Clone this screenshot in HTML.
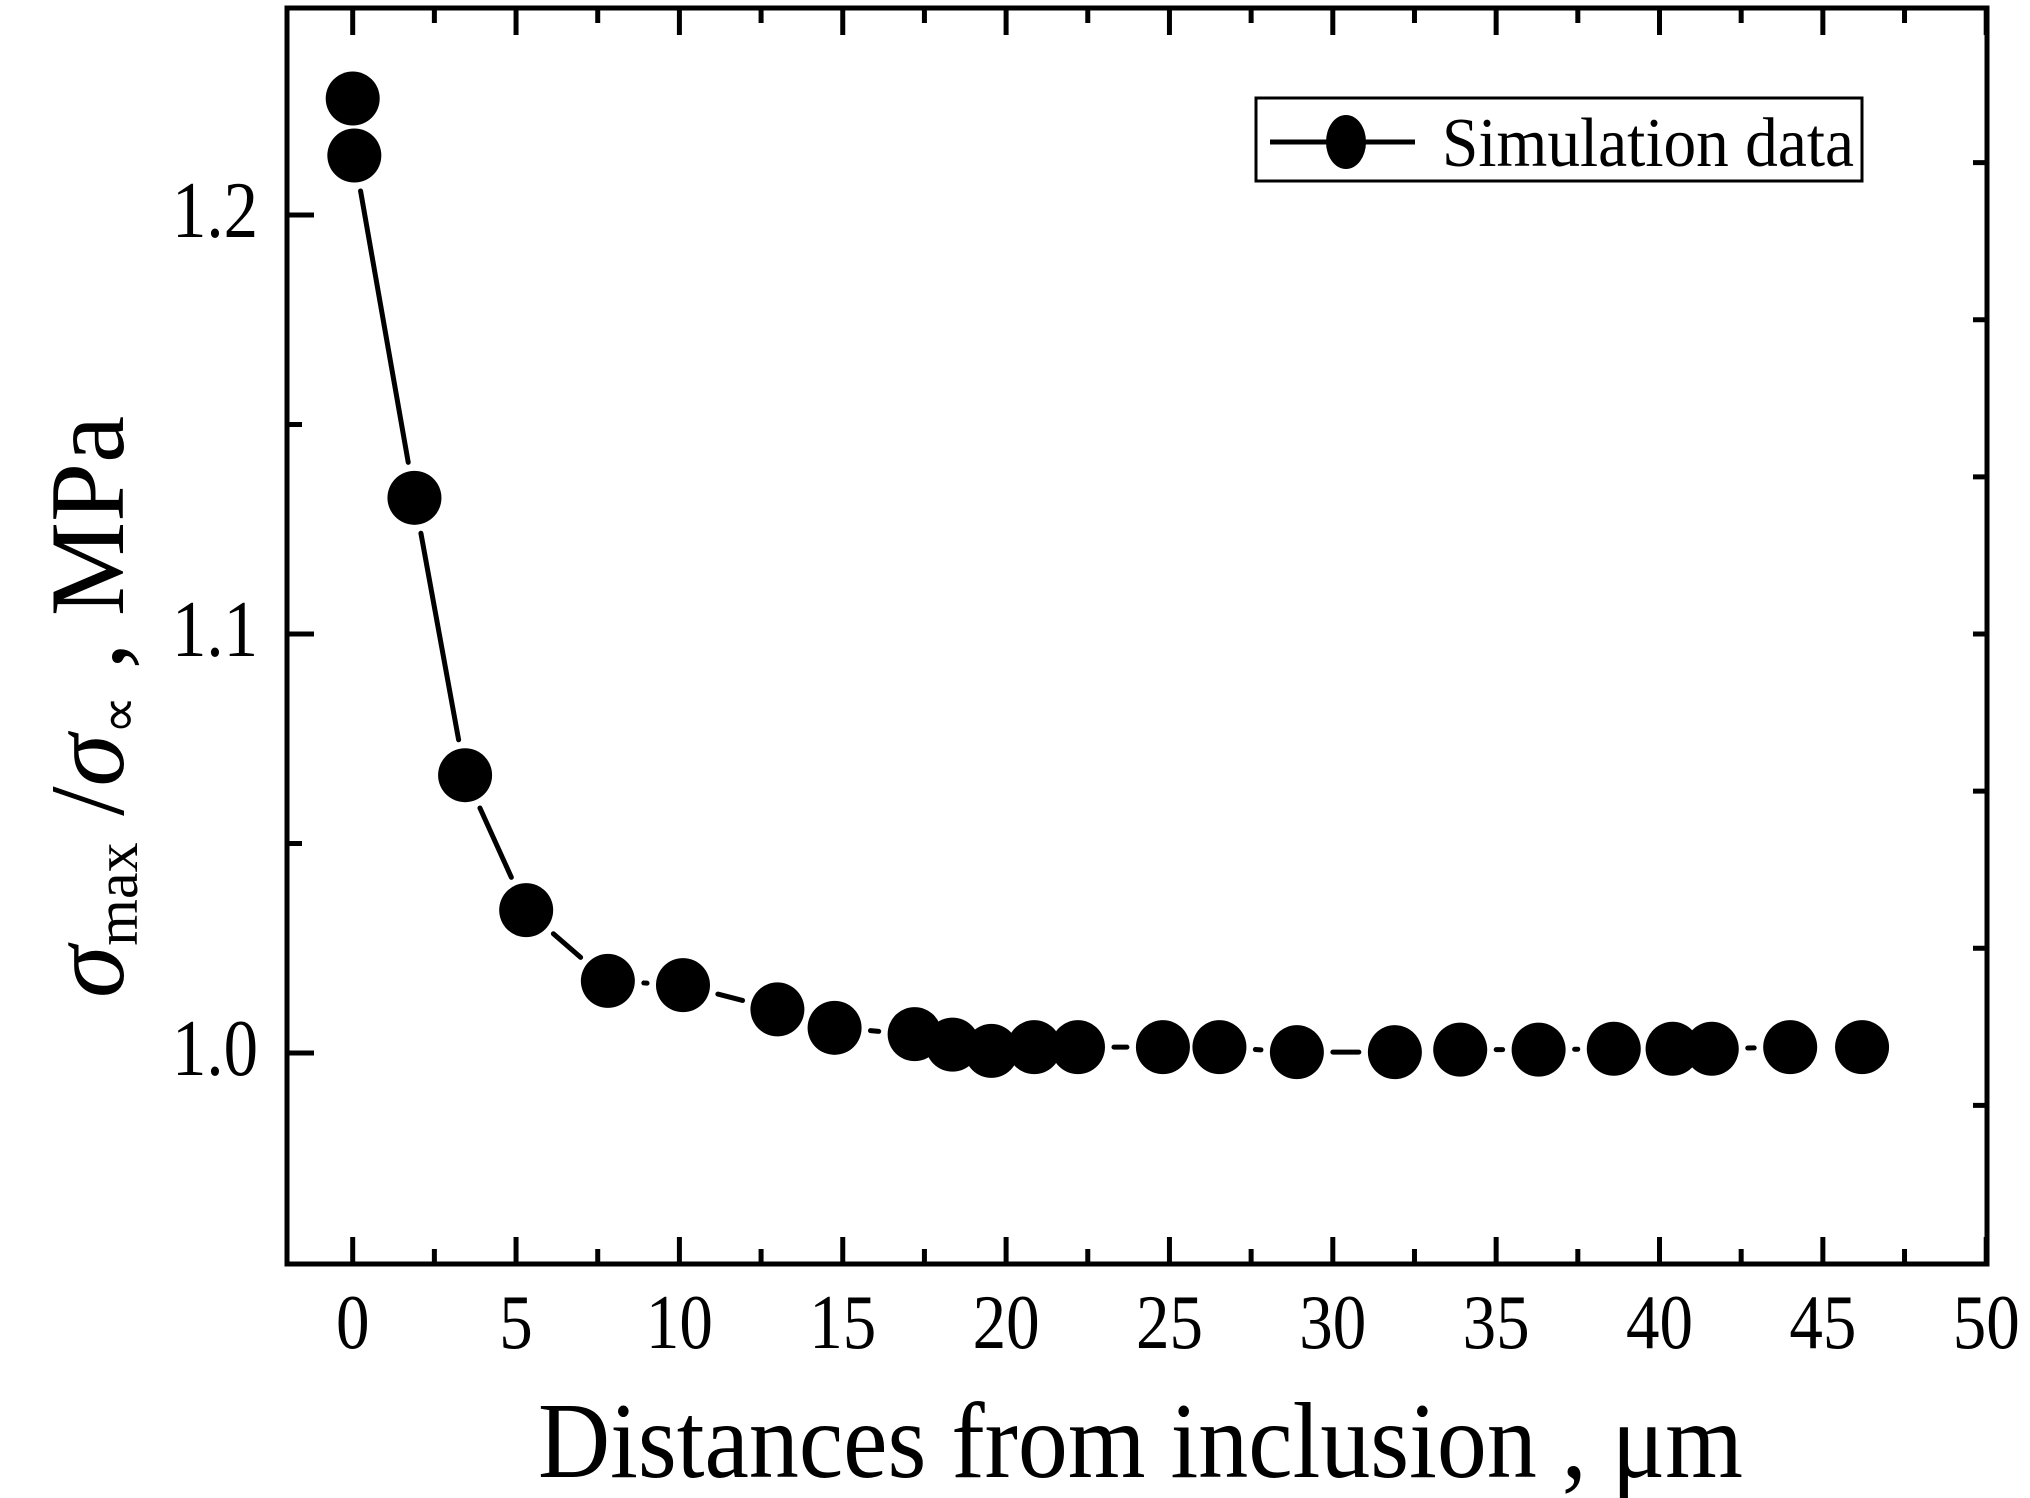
<!DOCTYPE html>
<html><head><meta charset="utf-8"><style>
html,body{margin:0;padding:0;background:#fff;}
svg{display:block;}
text{font-family:"Liberation Serif",serif;fill:#000;}
</style></head><body>
<svg id="chart" width="2030" height="1498" viewBox="0 0 2030 1498" xmlns="http://www.w3.org/2000/svg">
<g id="ticks"></g>
<g id="series"></g>
<rect x="287" y="8" width="1700" height="1256" fill="none" stroke="#000" stroke-width="5"/>
<g>
<rect x="1256" y="98" width="606" height="83" fill="#fff" stroke="#000" stroke-width="3"/>
<line x1="1270" y1="142" x2="1415" y2="142" stroke="#000" stroke-width="5"/>
<ellipse cx="1346" cy="142" rx="20" ry="27" fill="#000"/>
<text x="1442" y="166" font-size="70" textLength="412" lengthAdjust="spacingAndGlyphs">Simulation data</text>
</g>
<text x="538" y="1477" font-size="108" textLength="1205" lengthAdjust="spacingAndGlyphs">Distances from inclusion , μm</text>
<g transform="translate(123,998) rotate(-90)">
<text x="0" y="0" font-size="106"><tspan font-style="italic">σ</tspan><tspan font-size="60" dy="14">max</tspan><tspan dy="-14"> /</tspan><tspan font-style="italic">σ</tspan><tspan font-size="54" dy="14">∝</tspan><tspan dy="-14"> , MPa</tspan></text>
</g>
</svg>
<script>
const xs = [0, 0.05, 1.89, 3.44, 5.31, 7.81, 10.11, 13.0, 14.75, 17.2, 18.36, 19.55, 20.86, 22.2, 24.8, 26.53, 28.9, 31.9, 33.9, 36.3, 38.6, 40.4, 41.6, 44.0, 46.2];
const ys = [1.2278, 1.2142, 1.1325, 1.0663, 1.0341, 1.0172, 1.0162, 1.0104, 1.006, 1.0045, 1.002, 1.0005, 1.0014, 1.0014, 1.0014, 1.0014, 1.0002, 1.0002, 1.0008, 1.0008, 1.001, 1.001, 1.001, 1.0014, 1.0014];
const xTickLabels = ["0","5","10","15","20","25","30","35","40","45","50"];
const yTickLabels = ["1.0","1.1","1.2"];
const L=287,R=1987,T=8,B=1264;
const x0px=352.7, xPer=32.67;
function sx(v){return x0px+v*xPer;}
function sy(v){return 1053-(v-1)*4190;}
const NS="http://www.w3.org/2000/svg";
const tg=document.getElementById('ticks');
const sg=document.getElementById('series');
function mk(tag,attrs,parent){const e=document.createElementNS(NS,tag);for(const k in attrs)e.setAttribute(k,attrs[k]);parent.appendChild(e);return e;}
for(let i=0;i<=20;i++){
  const v=i*2.5;
  const major=(i%2===0);const len=major?27:15;const px=sx(v);
  const t1=mk('line',{x1:px,y1:B,x2:px,y2:B-len,stroke:'#000','stroke-width':5},tg);
  
  
  const t2=mk('line',{x1:px,y1:T,x2:px,y2:T+len,stroke:'#000','stroke-width':5},tg);
  
  
}
xTickLabels.forEach(function(lab){
  const v=parseFloat(lab);
  const w=33.5*lab.length;
  const t=mk('text',{x:sx(v)-w/2,y:1348,'font-size':77,textLength:w,lengthAdjust:'spacingAndGlyphs'},tg);
  t.textContent=lab;
  
  
});
for(let i=0;i<=4;i++){
  const v=1.0+i*0.05;
  const major=(i%2===0);const py=sy(v);
  const t=mk('line',{x1:L,y1:py,x2:L+(major?27:15),y2:py,stroke:'#000','stroke-width':5},tg);
  
  
}
yTickLabels.forEach(function(lab){
  const v=parseFloat(lab);
  const t=mk('text',{x:258-86,y:sy(v)+22,'font-size':80,textLength:86,lengthAdjust:'spacingAndGlyphs'},tg);
  t.textContent=lab;
  
  
});
for(let k=-3;k<=3;k++){
  const py=sy(1.1+k*0.0375);
  const t=mk('line',{x1:R,y1:py,x2:R-14,y2:py,stroke:'#000','stroke-width':5},tg);
  
  
}
const r=27,gap=r+9;
for(let i=0;i<xs.length-1;i++){
  const ax=sx(xs[i]),ay=sy(ys[i]),bx=sx(xs[i+1]),by=sy(ys[i+1]);
  const dx=bx-ax,dy=by-ay,d=Math.hypot(dx,dy);
  if(d<=2*gap+2)continue;
  const ux=dx/d,uy=dy/d;
  const l=mk('line',{x1:ax+ux*gap,y1:ay+uy*gap,x2:bx-ux*gap,y2:by-uy*gap,stroke:'#000','stroke-width':5,'stroke-linecap':'round'},sg);
  
  
}
xs.forEach(function(xv,i){
  const c=mk('circle',{cx:sx(xv),cy:sy(ys[i]),r:r,fill:'#000'},sg);
  
  
});
</script>
</body></html>
